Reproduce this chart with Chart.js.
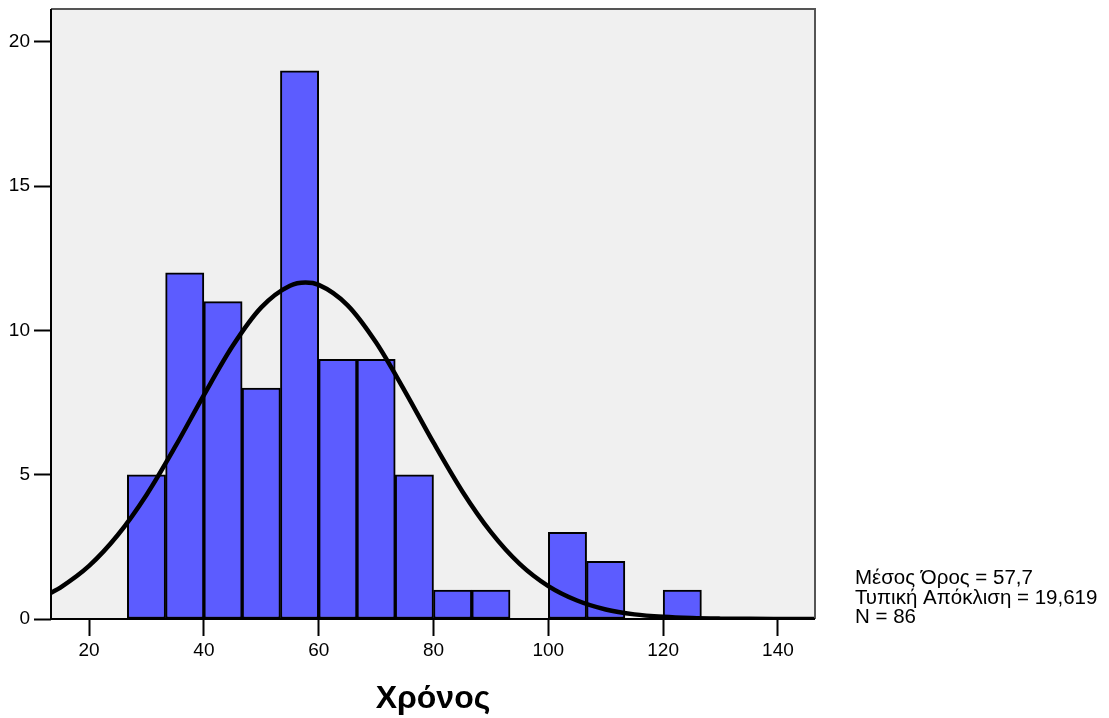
<!DOCTYPE html>
<html><head><meta charset="utf-8">
<script src="https://cdn.jsdelivr.net/npm/chart.js@4.4.1/dist/chart.umd.min.js"></script>
<style>html,body{margin:0;padding:0;background:#fff;overflow:hidden}#wrap{width:1109px;height:718px;position:relative}</style>
</head><body><div id="wrap"><canvas id="c" width="1109" height="718"></canvas></div>
<script>
// Histogram bins (centres of bins of width ~6.67) and counts
const binCenters = [30, 36.667, 43.333, 50, 56.667, 63.333, 70, 76.667, 83.333, 90, 96.667, 103.333, 110, 116.667, 123.333];
const binCounts  = [5, 12, 11, 8, 19, 9, 9, 5, 1, 1, 0, 3, 2, 0, 1];
// Normal curve
const curveX = [13.4, 15, 20, 25, 30, 35, 40, 45, 50, 55, 57.7, 60, 65, 70, 75, 80, 85, 90, 95, 100, 105, 110, 115, 120, 125, 130, 135, 140, 146.4];
const curveY = [0.91, 1.09, 1.84, 2.91, 4.30, 5.97, 7.76, 9.46, 10.80, 11.55, 11.66, 11.58, 10.88, 9.58, 7.90, 6.11, 4.43, 3.01, 1.91, 1.14, 0.64, 0.33, 0.16, 0.075, 0.032, 0.013, 0.005, 0.002, 0.0005];
const xTicks = [20, 40, 60, 80, 100, 120, 140];
const yTicks = [0, 5, 10, 15, 20];
const xRange = [13.37, 146.45];
const yRange = [0, 21.14];
const xTitle = 'Χρόνος';
const statLines = ['Μέσος Όρος = 57,7', 'Τυπική Απόκλιση = 19,619', 'N = 86'];

const FONT = "'Liberation Sans', Arial, sans-serif";

const frame = {
  id: 'frame',
  beforeDatasetsDraw(chart) {
    const {ctx, chartArea: a} = chart;
    ctx.save();
    ctx.fillStyle = '#f0f0f0';
    ctx.fillRect(a.left, a.top, a.right - a.left, a.bottom - a.top);
    ctx.restore();
  },
  afterDatasetsDraw(chart) {
    const {ctx, chartArea: a} = chart;
    ctx.save();
    ctx.lineWidth = 2;
    ctx.strokeStyle = '#555';
    ctx.beginPath();
    ctx.moveTo(a.left, a.top); ctx.lineTo(a.right, a.top); ctx.lineTo(a.right, a.bottom);
    ctx.stroke();
    ctx.strokeStyle = '#000';
    ctx.beginPath();
    ctx.moveTo(a.left, a.top); ctx.lineTo(a.left, a.bottom); ctx.lineTo(a.right, a.bottom);
    ctx.stroke();
    ctx.restore();
  },
  afterDraw(chart) {
    const {ctx} = chart;
    ctx.save();
    ctx.fillStyle = '#000';
    ctx.font = '20.5px ' + FONT;
    ctx.textAlign = 'left';
    ctx.textBaseline = 'alphabetic';
    statLines.forEach((t, i) => ctx.fillText(t, 855, 584 + i * 19.5));
    ctx.restore();
  }
};

const zeroPad = s => { s.paddingTop = 0; s.paddingBottom = 0; s.paddingLeft = 0; s.paddingRight = 0; };

new Chart(document.getElementById('c'), {
  type: 'bar',
  data: {
    datasets: [
      {
        type: 'line',
        order: 0,
        data: curveX.map((x, i) => ({x, y: curveY[i]})),
        borderColor: '#000',
        borderWidth: 4.5,
        pointRadius: 0,
        fill: false,
        cubicInterpolationMode: 'monotone'
      },
      {
        type: 'bar',
        order: 1,
        data: binCenters.map((x, i) => ({x, y: binCounts[i]})),
        backgroundColor: '#5c5cff',
        borderColor: '#000',
        borderWidth: 2,
        borderSkipped: false,
        barPercentage: 1,
        categoryPercentage: 1,
        grouped: false
      }
    ]
  },
  options: {
    responsive: false,
    animation: false,
    devicePixelRatio: 1,
    layout: {padding: {left: 0, right: 294, top: 9, bottom: 0}},
    plugins: {legend: {display: false}, tooltip: {enabled: false}},
    scales: {
      x: {
        type: 'linear',
        offset: false,
        min: xRange[0], max: xRange[1],
        afterBuildTicks: s => { s.ticks = xTicks.map(v => ({value: v})); },
        afterFit: s => { s.height = 99; zeroPad(s); },
        ticks: {color: '#000', font: {family: FONT, size: 19}, padding: 3},
        grid: {offset: false, drawOnChartArea: false, drawTicks: true, tickLength: 17, tickColor: '#000', tickWidth: 2},
        border: {display: false},
        title: {display: true, text: xTitle, color: '#000', font: {family: FONT, size: 32, weight: 'bold'}, padding: {top: 0, bottom: 0}}
      },
      y: {
        type: 'linear',
        min: yRange[0], max: yRange[1],
        afterBuildTicks: s => { s.ticks = yTicks.map(v => ({value: v})); },
        afterFit: s => { s.width = 51; zeroPad(s); },
        ticks: {color: '#000', font: {family: FONT, size: 19}, padding: 4},
        grid: {drawOnChartArea: false, drawTicks: true, tickLength: 17, tickColor: '#000', tickWidth: 2},
        border: {display: false}
      }
    }
  },
  plugins: [frame]
});
</script>
</body></html>
